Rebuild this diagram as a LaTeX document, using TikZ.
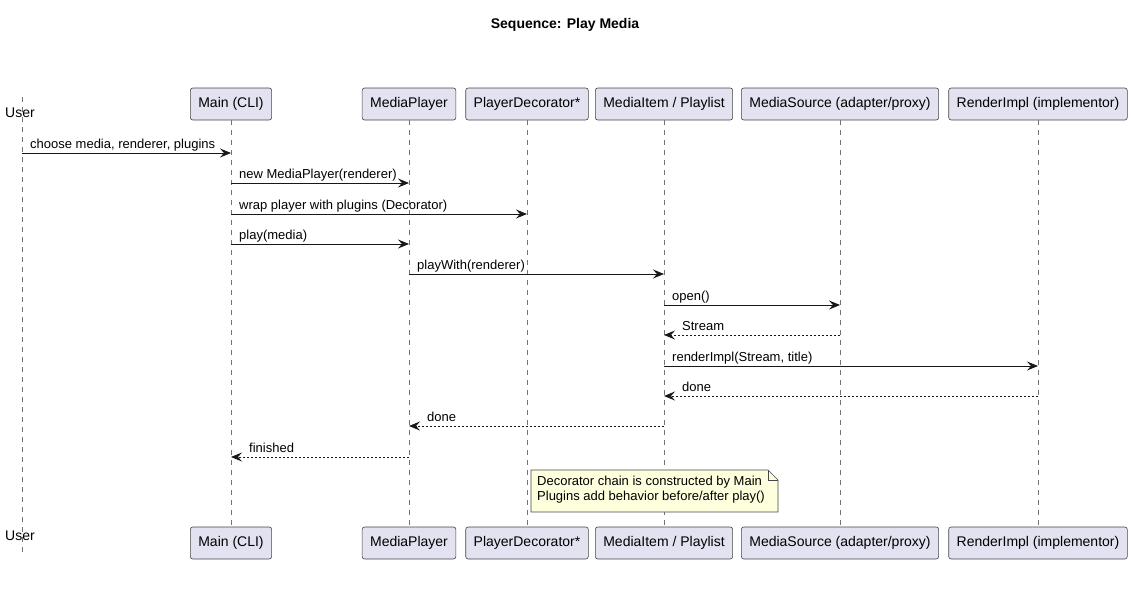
\documentclass[tikz,border=0pt]{standalone}
\usepackage{fontspec}
\setmainfont{Liberation Sans}
\usetikzlibrary{arrows.meta}
\definecolor{partfill}{HTML}{E2E2F0}
\definecolor{partline}{HTML}{181818}
\definecolor{notefill}{HTML}{FEFFDD}

\begin{document}
\begin{tikzpicture}
      [x=1pt,y=-1pt,
       part/.style={draw=partline!80,fill=partfill,rounded corners=2.5pt,line width=0.6pt,
                    minimum height=32pt,inner xsep=8pt,font=\fontsize{14}{16}\selectfont},
       actor/.style={inner sep=0pt,font=\fontsize{14}{16}\selectfont},
       life/.style={draw=partline!60,line width=0.6pt,dash pattern=on 5pt off 5pt},
       call/.style={draw=partline,line width=0.9pt,-{Stealth[length=11pt,width=9pt,inset=4pt]}},
       back/.style={call,dash pattern=on 2pt off 2pt},
       lbl/.style={anchor=base west,inner sep=0pt,font=\fontsize{13}{15}\selectfont}]
      \useasboundingbox (0,0) rectangle (1131,608);

      \node[font=\bfseries\fontsize{14}{16}\selectfont] (title) at (565,25) {Sequence: Play Media};

      % the user, drawn as a name only
      \coordinate (user) at (22,97);
      \coordinate (user-end) at (22,556);
      \draw[life] (user) -- (user-end);
      \node[actor] (user-top) at (20,113) {User};
      \node[actor] (user-bot) at (20,536) {User};

      \foreach \name/\x/\txt in {main/231/Main (CLI), player/409/MediaPlayer,
          deco/527/PlayerDecorator*, item/664/{MediaItem / Playlist},
          source/840/{MediaSource (adapter/proxy)}, render/1038/{RenderImpl (implementor)}}
      {
        \node[part] (\name) at (\x,104) {\txt};
        \node[part] (\name-bot) at (\x,543) {\txt};
        \draw[life] (\name.south) -- (\name-bot.north);
      }

      % calls
      \foreach \from/\to/\y/\txt in {user/main/153/{choose media, renderer, plugins},
          main/player/183/{new MediaPlayer(renderer)},
          main/deco/214/{wrap player with plugins (Decorator)},
          main/player/244/{play(media)},
          player/item/274/{playWith(renderer)},
          item/source/305/{open()},
          item/render/366/{renderImpl(Stream, title)}}
      {
        \draw[call] (\from |- 0,\y) -- (\to |- 0,\y);
        \path (\from |- 0,\y) ++(8,-5) node[lbl] {\txt};
      }

      % returns
      \foreach \from/\to/\y/\txt in {source/item/335/Stream, render/item/396/done,
          item/player/426/done, player/main/457/finished}
      {
        \draw[back] (\from |- 0,\y) -- (\to |- 0,\y);
        \path (\to |- 0,\y) ++(18,-5) node[lbl] {\txt};
      }

      % note
      \draw[draw=partline!80,fill=notefill,line width=0.6pt]
        (531,470) -- (768,470) -- (778,480) -- (778,512) -- (531,512) -- cycle;
      \draw[draw=partline!80,line width=0.6pt] (768,470) -- (768,480) -- (778,480);
      \node[anchor=north west,inner sep=0pt,align=left,font=\fontsize{13}{15}\selectfont]
        (note) at (537,476) {Decorator chain is constructed by Main\\Plugins add behavior before/after play()};
\end{tikzpicture}
\end{document}
